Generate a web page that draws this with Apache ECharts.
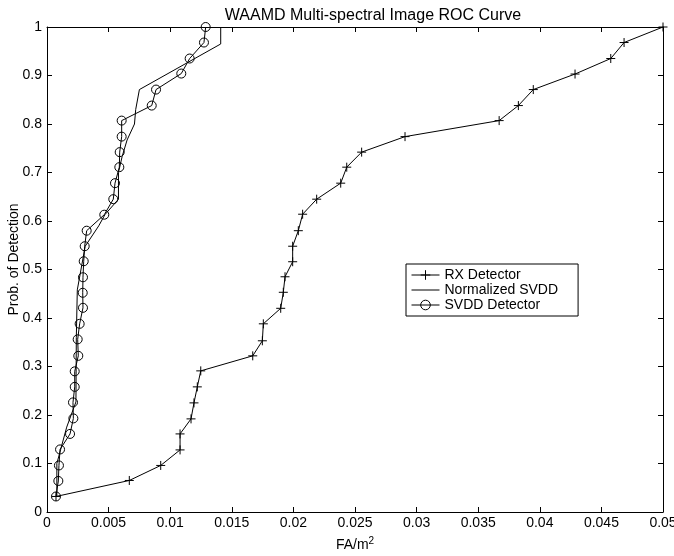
<!DOCTYPE html>
<html><head><meta charset="utf-8">
<script src="https://cdn.jsdelivr.net/npm/echarts@6/dist/echarts.min.js"></script>
<style>html,body{margin:0;padding:0;background:#fff}#c{width:674px;height:556px}</style>
</head><body><div id="c"></div>
<script>
const xTickLabels = ['0','0.005','0.01','0.015','0.02','0.025','0.03','0.035','0.04','0.045','0.05'];
const yTickLabels = ['0','0.1','0.2','0.3','0.4','0.5','0.6','0.7','0.8','0.9','1'];

const rxX = [0.00073,0.00668,0.00923,0.0108,0.0108,0.01169,0.01193,0.0122,0.01248,0.0167,0.01748,0.01756,0.01897,0.01918,0.01932,0.01994,0.01994,0.0204,0.02075,0.02189,0.02384,0.02433,0.02554,0.02906,0.0367,0.03826,0.03947,0.04286,0.04576,0.04684,0.05];
const rxY = [0.032,0.065,0.096,0.128,0.161,0.192,0.225,0.258,0.291,0.322,0.353,0.388,0.420,0.453,0.485,0.516,0.548,0.580,0.614,0.645,0.678,0.711,0.742,0.774,0.807,0.838,0.871,0.903,0.935,0.968,1.0];

const svddX = [0.00073,0.00092,0.00097,0.00106,0.00187,0.00214,0.00211,0.00225,0.00225,0.00254,0.00249,0.00265,0.00292,0.0029,0.00292,0.00298,0.00306,0.00322,0.00465,0.00538,0.00552,0.00587,0.0059,0.00606,0.00606,0.0085,0.00885,0.0109,0.01158,0.01274,0.01288];
const svddY = [0.032,0.064,0.096,0.129,0.161,0.193,0.226,0.258,0.290,0.322,0.356,0.388,0.421,0.452,0.484,0.517,0.548,0.580,0.613,0.645,0.678,0.711,0.742,0.774,0.807,0.838,0.871,0.904,0.935,0.968,1.0];

const normX = [0.0008,0.0008,0.0016,0.00235,0.00238,0.00246,0.0031,0.0042,0.0047,0.0058,0.0058,0.0061,0.0065,0.0071,0.0072,0.0075,0.0141,0.0141];
const normY = [0.032,0.10,0.175,0.227,0.36,0.458,0.548,0.59,0.613,0.645,0.70,0.733,0.767,0.80,0.83,0.871,0.965,1.0];

const names = ['RX Detector','Normalized SVDD','SVDD Detector'];
const zip = (a,b) => a.map((v,i)=>[v,b[i]]);
const FONT = 'Liberation Sans, Arial, sans-serif';

const chart = echarts.init(document.getElementById('c'), null, {renderer:'canvas'});
const axisCommon = {
  axisLine:{show:true,onZero:false,lineStyle:{color:'#000',width:1}},
  axisTick:{show:true,inside:true,length:5,lineStyle:{color:'#000'}},
  splitLine:{show:false}
};
chart.setOption({
  animation:false,
  backgroundColor:'#fff',
  title:{text:'WAAMD Multi-spectral Image ROC Curve',left:368,top:3,textAlign:'center',
    textStyle:{fontFamily:FONT,fontSize:16,fontWeight:'normal',color:'#000'}},
  grid:{left:47,right:11,top:27,bottom:44,containLabel:false,outerBoundsMode:'none'},
  legend:{orient:'vertical',left:406,top:264,padding:[4,20,4,5],itemGap:1,
    itemWidth:28,itemHeight:12,borderColor:'#000',borderWidth:1,backgroundColor:'#fff',
    lineStyle:{width:1},
    textStyle:{fontFamily:FONT,fontSize:14,color:'#000'},
    data:[{name:names[0],itemStyle:{borderWidth:1}},
          {name:names[1],itemStyle:{color:'rgba(0,0,0,0)',borderWidth:0,borderColor:'rgba(0,0,0,0)'}},
          {name:names[2],itemStyle:{borderWidth:1}}]},
  xAxis:[
    Object.assign({type:'value',min:0,max:0.05,interval:0.005,position:'bottom',
      axisLabel:{color:'#000',fontFamily:FONT,fontSize:14,margin:4,
        formatter:v=>xTickLabels[Math.round(v/0.005)]},
      name:'{a|FA/m}{b|2}',nameLocation:'middle',nameGap:24,nameMoveOverlap:false,
      nameTextStyle:{rich:{a:{fontFamily:FONT,fontSize:14,color:'#000'},
        b:{fontFamily:FONT,fontSize:10,color:'#000',verticalAlign:'top',padding:[0,0,8,0]}}}},axisCommon),
    Object.assign({type:'value',min:0,max:0.05,interval:0.005,position:'top',axisLabel:{show:false}},axisCommon)
  ],
  yAxis:[
    Object.assign({type:'value',min:0,max:1,interval:0.1,position:'left',
      axisLabel:{color:'#000',fontFamily:FONT,fontSize:14,margin:5,
        formatter:v=>yTickLabels[Math.round(v*10)]},
      name:'Prob. of Detection',nameLocation:'middle',nameGap:26,nameMoveOverlap:false,
      nameTextStyle:{fontFamily:FONT,fontSize:14,color:'#000',padding:[0,0,0,20]}},axisCommon),
    Object.assign({type:'value',min:0,max:1,interval:0.1,position:'right',axisLabel:{show:false}},axisCommon)
  ],
  series:[
    {name:names[0],type:'line',data:zip(rxX,rxY),symbol:'path://M0,5L10,5M5,0L5,10',symbolSize:9,
      showAllSymbol:true,lineStyle:{color:'#000',width:1},
      itemStyle:{color:'#000',borderColor:'#000',borderWidth:1}},
    {name:names[1],type:'line',data:zip(normX,normY),symbol:'none',
      lineStyle:{color:'#000',width:1},itemStyle:{color:'#000'}},
    {name:names[2],type:'line',data:zip(svddX,svddY),symbol:'circle',symbolSize:9,
      showAllSymbol:true,lineStyle:{color:'#000',width:1},
      itemStyle:{color:'rgba(255,255,255,0)',borderColor:'#000',borderWidth:1}}
  ]
});
</script></body></html>
